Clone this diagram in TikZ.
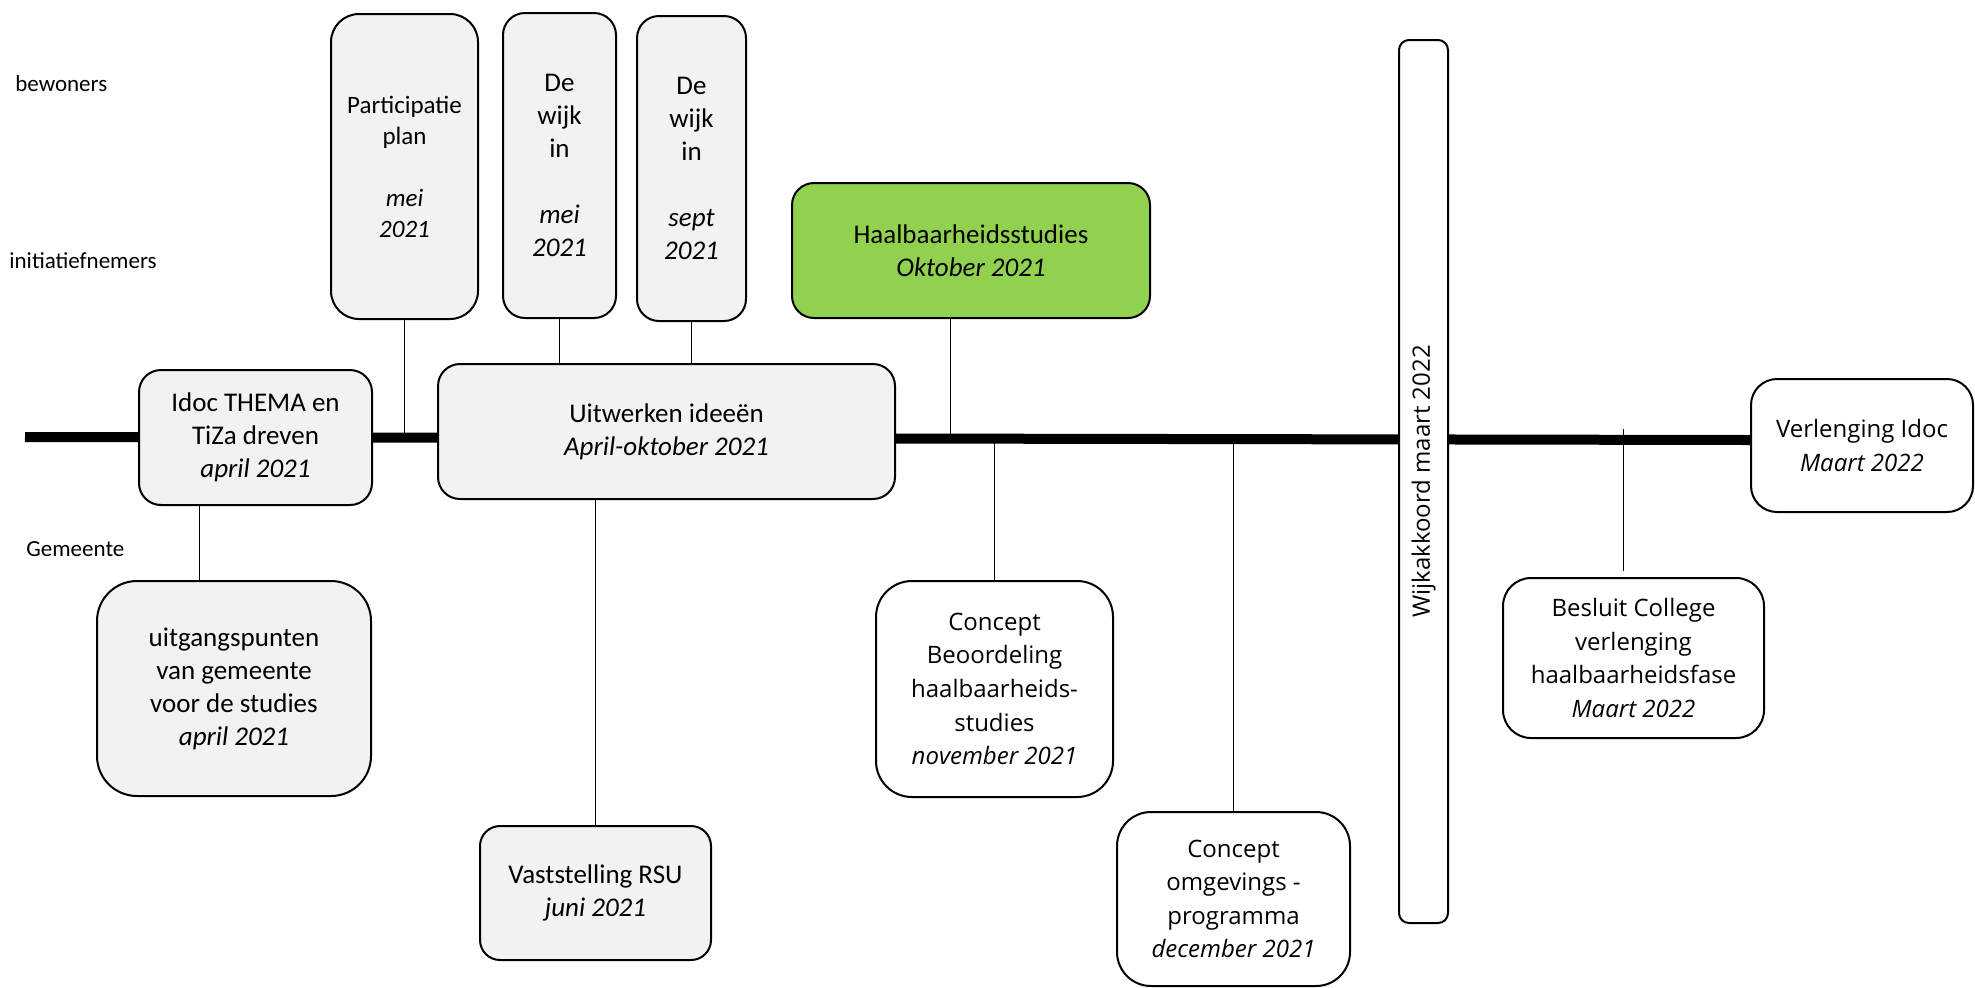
\documentclass[tikz,border=0pt]{standalone}
\usepackage{fontspec}
\setmainfont{Carlito}
\newfontfamily\widesans{Open Sans}
\usetikzlibrary{backgrounds}
\definecolor{boxgray}{HTML}{F2F2F2}
\definecolor{studygreen}{HTML}{92D050}

\begin{document}
\begin{tikzpicture}[x=0.5pt,y=-0.5pt,
    box/.style={draw,line width=1pt,fill=boxgray,align=center,inner sep=0pt,
      rounded corners=11pt,font=\fontsize{13.5}{16.5}\selectfont},
    wbox/.style={box,fill=white,font=\widesans\fontsize{12}{16.8}\selectfont},
    link/.style={line width=0.5pt},
    lane/.style={anchor=west,inner sep=0pt,font=\fontsize{11.5}{14}\selectfont}]
  \useasboundingbox (0,0) rectangle (1975,987);

  % lanes
  \node[lane] (bew) at (15,84) {bewoners};
  \node[lane] (ini) at (9,261) {initiatiefnemers};
  \node[lane] (gem) at (26,549) {Gemeente};

  % above the line
  \node[box,rounded corners=14pt,minimum width=73.5pt,minimum height=152.5pt,
    font=\fontsize{12.5}{15.5}\selectfont] (plan) at (404.5,166.5)
    {Participatie\\plan\\[15.5pt]\textit{mei}\\\textit{2021}};
  \node[box,minimum width=56.5pt,minimum height=152.5pt] (wijkmei) at (559.5,165.5)
    {De\\wijk\\in\\[16.5pt]\textit{mei}\\\textit{2021}};
  \node[box,minimum width=54.5pt,minimum height=152.5pt] (wijksept) at (691.5,168.5)
    {De\\wijk\\in\\[16.5pt]\textit{sept}\\\textit{2021}};
  \node[box,fill=studygreen,minimum width=179pt,minimum height=67.5pt] (studies) at (971,250.5)
    {Haalbaarheidsstudies\\\textit{Oktober 2021}};

  % on the line
  \node[box,minimum width=116.5pt,minimum height=67.5pt] (idoc) at (255.5,437.5)
    {Idoc THEMA en\\TiZa dreven\\\textit{april 2021}};
  \node[box,minimum width=228.5pt,minimum height=67.5pt] (uitwerken) at (666.5,431.5)
    {Uitwerken ideeën\\\textit{April-oktober 2021}};
  \node[wbox,rounded corners=5pt,rotate=90,minimum width=441.5pt,minimum height=24.5pt]
    (akkoord) at (1423.5,481.5) {Wijkakkoord maart 2022};
  \node[wbox,rounded corners=13pt,minimum width=111pt,minimum height=66.5pt] (verlenging) at (1862,445.5)
    {Verlenging Idoc\\\textit{Maart 2022}};

  % below the line
  \node[box,rounded corners=20pt,minimum width=137pt,minimum height=107.5pt] (uitgang) at (234,688.5)
    {uitgangspunten\\van gemeente\\voor de studies\\\textit{april 2021}};
  \node[box,rounded corners=10pt,minimum width=115.5pt,minimum height=67pt] (rsu) at (595.5,893)
    {Vaststelling RSU\\\textit{juni 2021}};
  \node[wbox,rounded corners=18pt,minimum width=118.5pt,minimum height=108pt] (beoordeling) at (994.5,689)
    {Concept\\Beoordeling\\haalbaarheids-\\studies\\\textit{november 2021}};
  \node[wbox,rounded corners=17pt,minimum width=116.5pt,minimum height=87pt] (omgeving) at (1233.5,899)
    {Concept\\omgevings -\\programma\\\textit{december 2021}};
  \node[wbox,rounded corners=14pt,minimum width=130.5pt,minimum height=80pt] (besluit) at (1633.5,658)
    {Besluit College\\verlenging\\haalbaarheidsfase\\\textit{Maart 2022}};

  \coordinate (tl-start) at (25,437);
  \coordinate (tl-end) at (1751,440);
  \coordinate (k-idoc) at (199,0);
  \coordinate (k-studies) at (950,0);
  \coordinate (k-besluit) at (1623,429);

  \begin{pgfonlayer}{background}
    \draw[link] (idoc.south -| k-idoc) -- (uitgang.north -| k-idoc);
    \draw[link] (plan.south) -- (plan.south |- tl-start);
    \draw[link] (wijkmei.south) -- (uitwerken.north -| wijkmei.south);
    \draw[link] (wijksept.south) -- (uitwerken.north -| wijksept.south);
    \draw[link] (rsu.north) -- (rsu.north |- uitwerken.south);
    \draw[link] (studies.south -| k-studies) -- (k-studies |- tl-start);
    \draw[link] (beoordeling.north) -- (beoordeling.north |- tl-end);
    \draw[link] (omgeving.north) -- (omgeving.north |- tl-end);
    \draw[link,shorten >=3pt] (k-besluit) -- (besluit.north -| k-besluit);
    \draw[line width=5pt] (tl-start) -- (tl-end);
  \end{pgfonlayer}
\end{tikzpicture}
\end{document}
